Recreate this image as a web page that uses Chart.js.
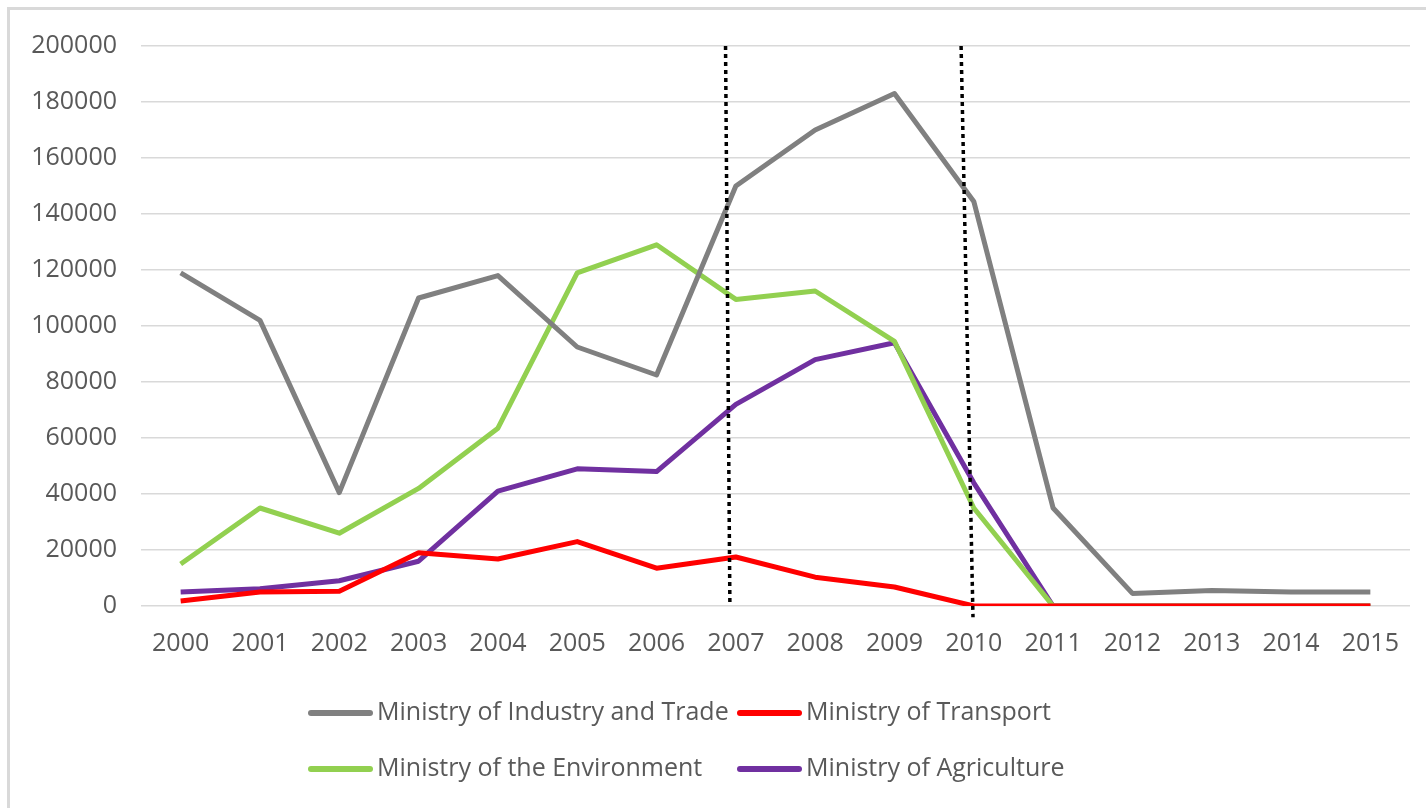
<!DOCTYPE html>
<html>
<head>
<meta charset="utf-8">
<script src="https://cdn.jsdelivr.net/npm/chart.js@4"></script>
<style>
  html, body { margin: 0; padding: 0; background: #fff; overflow: hidden; }
  #wrap { position: relative; width: 1426px; height: 808px; }
  #frame { position: absolute; left: 7px; top: 7px; width: 1440px; height: 830px; border: 3px solid #d9d9d9; box-sizing: border-box; }
  #chart { position: absolute; left: 0; top: 0; }
</style>
</head>
<body>
<div id="wrap">
  <div id="frame"></div>
  <canvas id="chart" width="1426" height="808"></canvas>
</div>
<script>
// データ
const years = ['2000', '2001', '2002', '2003', '2004', '2005', '2006', '2007', '2008', '2009', '2010', '2011', '2012', '2013', '2014', '2015'];
const industryTrade = [119000, 102000, 40500, 110000, 118000, 92500, 82500, 150000, 170000, 183000, 144500, 35000, 4500, 5500, 5000, 5000];
const transport = [1800, 5000, 5300, 19000, 16800, 23000, 13500, 17500, 10300, 6800, 0, 0, 0, 0, 0, 0];
const environment = [15000, 35000, 26000, 42000, 63500, 119000, 129000, 109500, 112500, 94500, 35000, 0, 0, 0, 0, 0];
const agriculture = [5000, 6200, 9000, 16000, 41000, 49000, 48000, 72000, 88000, 94000, 44000, 0, 0, 0, 0, 0];
const yTicks = [0, 20000, 40000, 60000, 80000, 100000, 120000, 140000, 160000, 180000, 200000];
const markerYears = ['2007', '2010']; // 点線の年

const FONT = '"Open Sans", "Noto Sans", sans-serif';
const TEXT_COLOR = '#595959';

function makeSet(label, data, color) {
    return {
        label: label,
        data: data,
        borderColor: color,
        backgroundColor: color,
        borderWidth: 5,
        pointRadius: 0,
        pointHoverRadius: 0,
        tension: 0,
        borderJoinStyle: 'round'
    };
}

// 点線（縦）を描くプラグイン
const markerPlugin = {
    id: 'markers',
    afterDatasetsDraw(chart) {
        const ctx = chart.ctx;
        const xs = chart.scales.x;
        const ys = chart.scales.y;
        // [上端のずれ, 下端のずれ, 下端の値]
        const shapes = [[-0.13, -0.075, 0], [-0.16, -0.01, -4000]];
        ctx.save();
        ctx.strokeStyle = '#000';
        ctx.lineWidth = 3.5;
        ctx.setLineDash([4, 4]);
        markerYears.forEach((yr, i) => {
            const idx = years.indexOf(yr);
            const s = shapes[i];
            ctx.beginPath();
            ctx.moveTo(xs.getPixelForValue(idx + s[0]), ys.getPixelForValue(200000));
            ctx.lineTo(xs.getPixelForValue(idx + s[1]), ys.getPixelForValue(s[2]));
            ctx.stroke();
        });
        ctx.restore();
    }
};

// 凡例（2列×2行）
const legendPlugin = {
    id: 'gridLegend',
    afterDraw(chart) {
        const ctx = chart.ctx;
        const cols = [308, 737];
        const rows = [713, 769];
        ctx.save();
        ctx.font = '25px ' + FONT;
        ctx.textBaseline = 'middle';
        ctx.textAlign = 'left';
        chart.data.datasets.forEach((ds, k) => {
            const x = cols[k % 2];
            const y = rows[Math.floor(k / 2)];
            ctx.strokeStyle = ds.borderColor;
            ctx.lineWidth = 6;
            ctx.lineCap = 'round';
            ctx.setLineDash([]);
            ctx.beginPath();
            ctx.moveTo(x + 3, y);
            ctx.lineTo(x + 62, y);
            ctx.stroke();
            ctx.fillStyle = TEXT_COLOR;
            ctx.fillText(ds.label, x + 69, y);
        });
        ctx.restore();
    }
};

const chartConfig = {
    type: 'line',
    data: {
        labels: years,
        datasets: [
            makeSet('Ministry of Industry and Trade', industryTrade, '#808080'),
            makeSet('Ministry of Transport', transport, '#ff0000'),
            makeSet('Ministry of the Environment', environment, '#92d050'),
            makeSet('Ministry of Agriculture', agriculture, '#7030a0')
        ]
    },
    options: {
        responsive: false,
        animation: false,
        events: [],
        layout: {
            padding: { left: 0, right: 16, top: 46, bottom: 142 }
        },
        scales: {
            x: {
                offset: true,
                grid: { display: false, drawTicks: false },
                border: { display: false },
                ticks: {
                    color: TEXT_COLOR,
                    font: { family: FONT, size: 25 },
                    padding: 23,
                    maxRotation: 0,
                    autoSkip: false
                },
                afterFit(scale) { scale.height = 60; }
            },
            y: {
                min: 0,
                max: 200000,
                grid: { color: '#d9d9d9', lineWidth: 1.5, drawTicks: false },
                border: { display: false },
                afterBuildTicks(scale) {
                    scale.ticks = yTicks.map(v => ({ value: v }));
                },
                ticks: {
                    color: TEXT_COLOR,
                    font: { family: FONT, size: 25 },
                    padding: 24,
                    callback: function(value) { return String(value); }
                },
                afterFit(scale) { scale.width = 141; }
            }
        },
        plugins: {
            legend: { display: false },
            tooltip: { enabled: false }
        }
    },
    plugins: [markerPlugin, legendPlugin]
};

const chart = new Chart(document.getElementById('chart'), chartConfig);
</script>
</body>
</html>
